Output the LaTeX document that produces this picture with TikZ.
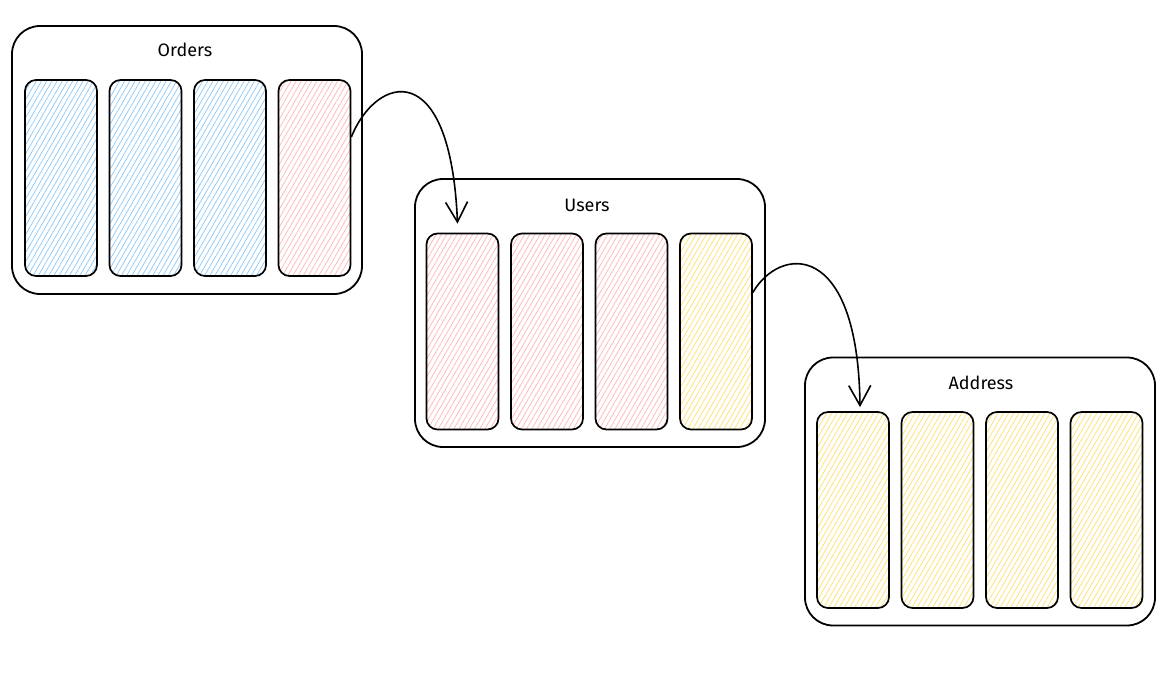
\documentclass[tikz,border=0pt]{standalone}
\usepackage{fontspec}
\setmainfont{Fira Sans}
\usetikzlibrary{arrows.meta,patterns.meta}

\definecolor{hblue}{HTML}{8CC6F4}
\definecolor{hred}{HTML}{FFB3B3}
\definecolor{hyellow}{HTML}{FFDE6A}

\begin{document}
\begin{tikzpicture}[x=1pt, y=-1pt,
	tablebox/.style={draw, line width=1.8pt, rounded corners=28pt, minimum width=350pt, minimum height=268pt},
	colbox/.style={draw, line width=1.7pt, rounded corners=11pt, minimum width=72pt, minimum height=196pt,
		pattern={Lines[angle=60, distance=4.5pt, line width=0.7pt]}, pattern color=#1},
	title/.style={font=\fontsize{18}{20}\selectfont},
	link/.style={-{Straight Barb[length=20pt, width=22pt]}, line width=1.6pt}]

	\useasboundingbox (0,0) rectangle (1171,684);

	\def \step {84.5} % distance between columns

	% Orders
	\node[tablebox] (orders) at (187,160) {};
	\node[title] (orderst) at (185,50) {Orders};
	\foreach \i/\c in {1/hblue, 2/hblue, 3/hblue, 4/hred}
		\node[colbox=\c] (o\i) at ({61+(\i-1)*\step},178) {};

	% Users
	\node[tablebox] (users) at (590,313) {};
	\node[title] (userst) at (587,205) {Users};
	\foreach \i/\c in {1/hred, 2/hred, 3/hred, 4/hyellow}
		\node[colbox=\c] (u\i) at ({462.5+(\i-1)*\step},331.5) {};

	% Address
	\node[tablebox] (address) at (980,491.5) {};
	\node[title] (addresst) at (981,383) {Address};
	\foreach \i/\c in {1/hyellow, 2/hyellow, 3/hyellow, 4/hyellow}
		\node[colbox=\c] (a\i) at ({853+(\i-1)*\step},510) {};

	% links
	\draw[link] ([yshift=41pt]o4.east) .. controls +(25,-62) and +(-7,-169) .. ([xshift=-5pt, yshift=9pt]u1.north);
	\draw[link] ([yshift=39pt]u4.east) .. controls +(27,-47) and +(-2,-168) .. ([xshift=7pt, yshift=4pt]a1.north);

\end{tikzpicture}
\end{document}
